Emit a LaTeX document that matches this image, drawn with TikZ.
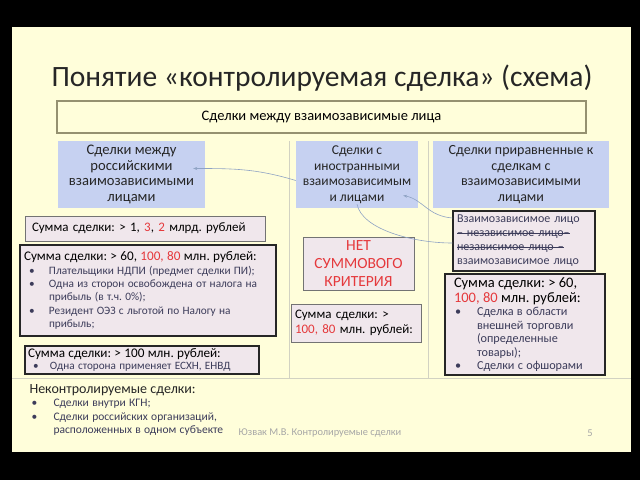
\documentclass[tikz,border=0pt]{standalone}
\usepackage{fontspec}
\setmainfont{Carlito}
\usetikzlibrary{calc,arrows.meta}
\definecolor{slide}{HTML}{FFFEDA}
\definecolor{bluebx}{HTML}{C6D1F1}
\definecolor{pinkbx}{HTML}{F0E7EC}
\definecolor{sumred}{HTML}{E5393C}
\definecolor{bultxt}{HTML}{3C3C5A}
\definecolor{sepln}{HTML}{D2D2C2}
\definecolor{connln}{HTML}{8FA3C4}
\frenchspacing
\newcommand{\rd}[1]{\textcolor{sumred}{#1}}
\newcommand{\fs}[2]{\fontsize{#1}{#2}\selectfont}
% bullet at #1, text at #2 from the left of the text block
\newcommand{\bul}[2]{\makebox[0pt][l]{\hspace*{#1}\textbullet}\hspace*{#2}}
\newcommand{\strk}[1]{\leavevmode\setbox0\hbox{#1}\rlap{\rule[0.28em]{\wd0}{0.8pt}}\box0}

\begin{document}
\begin{tikzpicture}[x=1pt,y=-1pt,
    wh/.style 2 args={minimum width=#1,minimum height=#2,inner sep=0pt},
    bluebox/.style={fill=bluebx,align=center,text=black!85},
    pinkbox/.style={fill=pinkbx,draw=black!85,line width=1.2pt},
    greybox/.style={fill=pinkbx,draw=black!55,line width=0.8pt},
    conn/.style={draw=connln,line width=0.6pt,-{Stealth[length=4pt,width=3pt]}}]
  \useasboundingbox[fill=black] (0,0) rectangle (640,480);
  \fill[slide] (12,27) rectangle (631,452);
  % title and top box
  \node[anchor=base,font=\fs{29.5}{31},text=black!85] (title) at (322,86)
    {Понятие «контролируемая сделка» (схема)};
  \node[wh={529}{32},draw=black!60!olive!60,line width=1.2pt,font=\fs{14.5}{16}] (all) at (321.5,117)
    {Сделки между взаимозависимые лица};
  % columns
  \draw[sepln,line width=0.8pt] (289,141) -- (289,378) (428,141) -- (428,378) (12,378) -- (631,378);
  \node[bluebox,wh={147}{67},font=\fs{14.6}{15.6}] (ru) at (131.5,174.5)
    {Сделки между\\российскими\\взаимозависимыми\\лицами};
  \node[bluebox,wh={122}{67},font=\fs{13.5}{15.5}] (fo) at (357,174.5)
    {Сделки с\\иностранными\\взаимозависимым\\и лицами};
  \node[bluebox,wh={176}{67},font=\fs{14}{15.5}] (eq) at (521,174.5)
    {Сделки приравненные к\\сделкам с\\взаимозависимыми\\лицами};
  % left column
  \node[greybox,wh={240}{25},text width=226,align=left,font=\fs{13}{14}] (s1) at (145,228.5)
    {Сумма сделки: > 1, \rd{3}, \rd{2} млрд. рублей};
  \node[pinkbox,wh={256}{91},text width=248,align=left] (s2) at (148,290.5)
    {\fs{13.2}{14}Сумма сделки: > 60, \rd{100, 80} млн. рублей:\par
     \color{bultxt}\fs{11.3}{13.4}\bul{5pt}{25pt}Плательщики НДПИ (предмет сделки ПИ);\\
     \bul{5pt}{25pt}Одна из сторон освобождена от налога на\\
     \hspace*{25pt}прибыль (в т.ч. 0\%);\\
     \bul{5pt}{25pt}Резидент ОЭЗ с льготой по Налогу на\\
     \hspace*{25pt}прибыль;\par};
  \node[pinkbox,wh={234}{28},text width=228,align=left] (s3) at (142,360)
    {\fs{13.2}{13}Сумма сделки: > 100 млн. рублей:\par
     \color{bultxt}\fs{11.2}{12.5}\bul{5pt}{22pt}Одна сторона применяет ЕСХН, ЕНВД\par};
  % middle column
  \node[greybox,wh={111}{53},align=center,text=sumred,font=\fs{15.5}{18}] (none) at (358.5,263.5)
    {НЕТ\\СУММОВОГО\\КРИТЕРИЯ};
  \node[greybox,wh={130}{38},text width=122,align=left,font=\fs{13}{15}] (s4) at (356,323)
    {Сумма сделки: >\\\rd{100, 80} млн. рублей:};
  % right column
  \node[pinkbox,wh={142}{60},text width=134,align=left,text=bultxt,font=\fs{12}{14}] (chain) at (524,241)
    {Взаимозависимое лицо\\\strk{– независимое лицо–}\\\strk{независимое лицо –}\\взаимозависимое лицо};
  \node[pinkbox,wh={160}{101},text width=142,align=left] (s5) at (525,324.5)
    {\fs{14.5}{15}Сумма сделки: > 60,\\\rd{100, 80} млн. рублей:\par
     \color{bultxt}\fs{12.2}{13.5}\bul{1pt}{23pt}Сделка в области\\
     \hspace*{23pt}внешней торговли\\
     \hspace*{23pt}(определенные\\
     \hspace*{23pt}товары);\\
     \bul{1pt}{23pt}Сделки с офшорами\par};
  % connectors
  \coordinate (c1s) at ($(fo.west)+(0,6)$);
  \coordinate (c1e) at ($(ru.east)+(-12,-6)$);
  \coordinate (c2s) at ($(chain.west)+(0,-23)$);
  \coordinate (c2e) at ($(fo.east)+(-15,21)$);
  \coordinate (c3s) at ($(fo.south)+(0,-4)$);
  \coordinate (c3e) at ($(chain.west)+(0,2)$);
  \draw[conn] (c1s) .. controls +(-40,-12) and +(40,0) .. (c1e);
  \draw[conn] (c2s) .. controls +(-25,-2) and +(20,4) .. (c2e);
  \draw[conn,-] (c3s) .. controls +(5,25) and +(-40,0) .. (c3e);
  % not controlled
  \node[anchor=north west,align=left,text width=260,text=black!85] (nc) at (26,381)
    {\fs{14}{15}Неконтролируемые сделки:\par
     \color{bultxt}\fs{11.5}{13.3}\bul{2pt}{24pt}Сделки внутри КГН;\\
     \bul{2pt}{24pt}Сделки российских организаций,\\
     \hspace*{24pt}расположенных в одном субъекте\par};
  \node[font=\fs{10.4}{11},text=black!35] (foot) at (320,433) {Юзвак М.В. Контролируемые сделки};
  \node[font=\fs{10.4}{11},text=black!35] (pg) at (590,433) {5};
\end{tikzpicture}
\end{document}
